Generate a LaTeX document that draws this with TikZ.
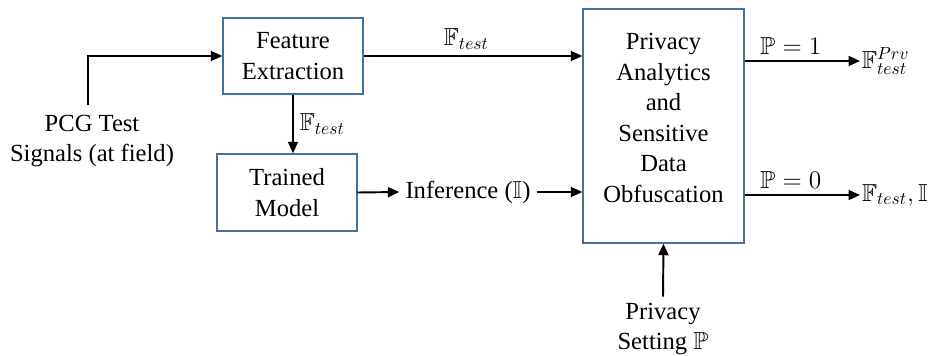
\documentclass[tikz,border=0pt]{standalone}
\usepackage{amssymb}
\usepackage{fontspec}
\setmainfont{Liberation Serif}
\usetikzlibrary{arrows.meta}
\definecolor{boxblue}{RGB}{65,113,156}

\begin{document}
\begin{tikzpicture}[x=0.02cm, y=-0.02cm,
    font=\fontsize{14}{17.4}\selectfont,
    blk/.style={draw=boxblue, line width=0.85pt, align=center, inner sep=0pt},
    arr/.style={-{Triangle[length=0.23cm, width=0.2cm]}, line width=1.1pt}]
    \useasboundingbox (0,0) rectangle (933,355);

    % 1. Blocks
    \node[blk, minimum width=2.8cm, minimum height=1.52cm] (feat) at (293,56) {Feature\\Extraction};
    \node[blk, minimum width=2.8cm, minimum height=1.54cm] (train) at (287,192.5) {Trained\\Model};
    \node[blk, minimum width=3.22cm, minimum height=4.68cm] (priv) at (663.5,126) {};
    % text of the big block sits a bit above its middle
    \node[align=center] (privtxt) at ([yshift=0.16cm]priv.center)
        {Privacy\\Analytics\\and\\Sensitive\\Data\\Obfuscation};

    % 2. Free texts
    \node[align=center] (pcg) at (92,141) {PCG Test\\Signals (at field)};
    \node (inf) at (468,192) {Inference ($\mathbb{I}$)};
    \node[align=center] (set) at (663,329) {Privacy\\Setting $\mathbb{P}$};
    \node[anchor=west, inner sep=1pt] (out1) at (860,61) {$\mathbb{F}^{Prv}_{test}$};
    \node[anchor=west, inner sep=1pt] (out0) at (860,195) {$\mathbb{F}_{test}, \mathbb{I}$};
    \coordinate (in) at (88,105);

    % 3. Connectors
    \draw[arr] (in) |- (feat.west);
    \draw[arr] (feat.east) -- node[above, pos=0.47] {$\mathbb{F}_{test}$} (feat.east -| priv.west);
    \draw[arr] (feat.south) -- node[right] {$\mathbb{F}_{test}$} (feat.south |- train.north);
    \draw[arr] (train.east) -- (inf.west);
    \draw[arr] (inf.east) -- (inf.east -| priv.west);
    \draw[arr] (priv.east |- out1) -- node[above, pos=0.4] {$\mathbb{P}=1$} (out1.west);
    \draw[arr] (priv.east |- out0) -- node[above, pos=0.4] {$\mathbb{P}=0$} (out0.west);
    \draw[arr] (set.north) -- (priv.south);

\end{tikzpicture}
\end{document}
